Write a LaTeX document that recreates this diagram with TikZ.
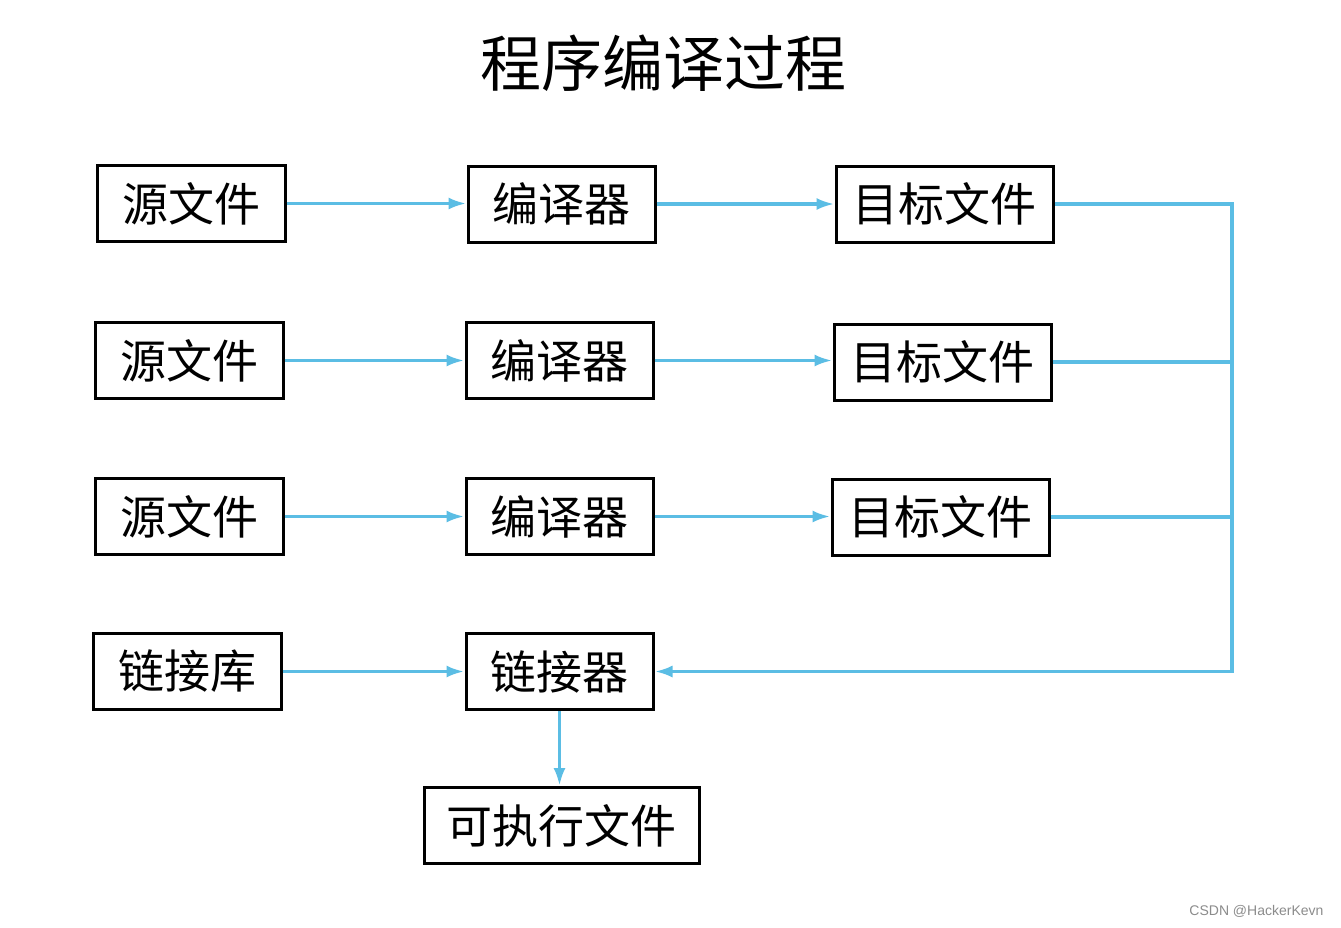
\documentclass[tikz,border=0pt]{standalone}
\usepackage{fontspec}
\newfontfamily\cjk{Noto Sans CJK SC}
\newfontfamily\wm{Liberation Sans}
\usetikzlibrary{arrows.meta}
\definecolor{lineblue}{RGB}{91,189,228}
\tikzset{
  box/.style={draw=black, line width=3pt, inner sep=0pt, font=\cjk\fontsize{46}{46}\selectfont, minimum height=76pt},
  wA/.style={minimum width=188pt},
  wB/.style={minimum width=187pt},
  wC/.style={minimum width=217pt},
  conn/.style={draw=lineblue, line width=3.5pt},
  arr/.style={conn, -{Latex[length=18pt,width=12pt]}}
}
\begin{document}
\begin{tikzpicture}[x=1pt,y=-1pt]
\useasboundingbox[fill=white] (0,0) rectangle (1341,927);
\node[font=\cjk\fontsize{61}{61}\selectfont] (title) at (663,63) {程序编译过程};
% row 1
\node[box,wA] (s1) at (191,203.5) {源文件};
\node[box,wB] (c1) at (561.5,204) {编译器};
\node[box,wC] (t1) at (944.5,204) {目标文件};
% row 2
\node[box,wA] (s2) at (189,360.5) {源文件};
\node[box,wB] (c2) at (559.5,360.5) {编译器};
\node[box,wC] (t2) at (942.5,362) {目标文件};
% row 3
\node[box,wA] (s3) at (189,516.5) {源文件};
\node[box,wB] (c3) at (559.5,516.5) {编译器};
\node[box,wC] (t3) at (940.5,517) {目标文件};
% row 4
\node[box,wA] (lib) at (187,671.5) {链接库};
\node[box,wB] (lk) at (559.5,671.5) {链接器};
\node[box,minimum width=275pt] (exe) at (561.5,825.5) {可执行文件};
\coordinate (R) at (1232,0);
% arrows
\draw[arr] (s1.east) -- (s1.east -| c1.west);
\draw[arr] (c1.east) -- (c1.east -| t1.west);
\draw[arr] (s2.east) -- (s2.east -| c2.west);
\draw[arr] (c2.east) -- (c2.east -| t2.west);
\draw[arr] (s3.east) -- (s3.east -| c3.west);
\draw[arr] (c3.east) -- (c3.east -| t3.west);
\draw[arr] (lib.east) -- (lib.east -| lk.west);
\draw[conn] (t2.east) -- (t2.east -| R);
\draw[conn] (t3.east) -- (t3.east -| R);
\draw[arr, line join=miter] (t1.east) -- (t1.east -| R) -- (lk.east -| R) -- (lk.east);
\draw[arr] (lk.south) -- (lk.south |- exe.north);
\node[font=\wm\fontsize{14}{14}\selectfont, text=black!45, anchor=east] (wmk) at (1327,911) {CSDN @HackerKevn};
\end{tikzpicture}
\end{document}
